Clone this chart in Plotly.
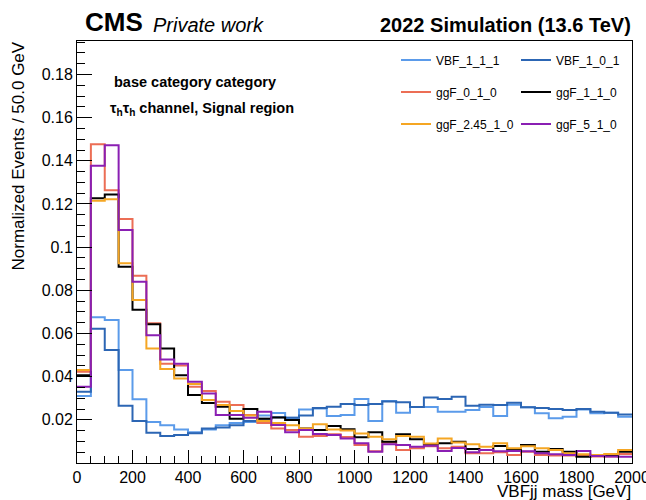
import numpy as np
import plotly.graph_objects as go

# 40 bins of 50 GeV between 0 and 2000 GeV
bin_width = 50.0
n_bins = 40

vbf_1_1_1 = [0.031, 0.0675, 0.0662, 0.0431, 0.0295, 0.019, 0.0175, 0.0155, 0.0142, 0.0155,
             0.0175, 0.0185, 0.019, 0.022, 0.0232, 0.021, 0.0248, 0.0253, 0.0218, 0.0222,
             0.0296, 0.0194, 0.0287, 0.0233, 0.026, 0.026, 0.0238, 0.0238, 0.0245, 0.026,
             0.0218, 0.027, 0.0258, 0.023, 0.0207, 0.0214, 0.0248, 0.023, 0.0233, 0.0214]
vbf_1_0_1 = [0.033, 0.0622, 0.0523, 0.0265, 0.0195, 0.014, 0.0125, 0.013, 0.0138, 0.016,
             0.0165, 0.0175, 0.0195, 0.0205, 0.0212, 0.021, 0.022, 0.0255, 0.0261, 0.0273,
             0.0269, 0.0273, 0.0285, 0.0281, 0.0259, 0.0304, 0.0296, 0.0307, 0.0265, 0.027,
             0.0269, 0.0279, 0.0258, 0.0255, 0.025, 0.0245, 0.025, 0.0238, 0.0233, 0.0225]
ggf_0_1_0 = [0.0423, 0.1477, 0.1264, 0.113, 0.0867, 0.0647, 0.046, 0.0452, 0.0353, 0.0333,
             0.0284, 0.0269, 0.0222, 0.0185, 0.016, 0.0153, 0.0122, 0.0125, 0.0133, 0.012,
             0.0083, 0.0055, 0.0095, 0.006, 0.0068, 0.0078, 0.0068, 0.0075, 0.0045, 0.0045,
             0.005, 0.0037, 0.0052, 0.0037, 0.0035, 0.0035, 0.0033, 0.003, 0.003, 0.0042]
ggf_1_1_0 = [0.0407, 0.1227, 0.1244, 0.0909, 0.071, 0.0643, 0.0531, 0.0407, 0.0315, 0.0278,
             0.0261, 0.0205, 0.025, 0.0205, 0.0211, 0.0199, 0.016, 0.0153, 0.0171, 0.0156,
             0.0119, 0.0142, 0.0099, 0.0133, 0.011, 0.0088, 0.0091, 0.0099, 0.0065, 0.006,
             0.0079, 0.0065, 0.0083, 0.0052, 0.0065, 0.0052, 0.0029, 0.0037, 0.0032, 0.0052]
ggf_2p45_1_0 = [0.0431, 0.1215, 0.1222, 0.0925, 0.0755, 0.053, 0.0435, 0.0392, 0.0366, 0.0292,
                0.0269, 0.0241, 0.022, 0.0195, 0.0185, 0.0175, 0.016, 0.0179, 0.0155, 0.015,
                0.0137, 0.0122, 0.011, 0.0125, 0.0122, 0.009, 0.0114, 0.0095, 0.0087, 0.0075,
                0.0091, 0.0068, 0.0078, 0.0068, 0.006, 0.0045, 0.004, 0.0037, 0.0042, 0.006]
ggf_5_1_0 = [0.0353, 0.1377, 0.1472, 0.1079, 0.084, 0.0592, 0.048, 0.046, 0.0376, 0.0322,
             0.0222, 0.0222, 0.021, 0.0238, 0.0176, 0.0142, 0.0153, 0.0134, 0.013, 0.0114,
             0.0091, 0.0052, 0.0087, 0.0083, 0.0075, 0.008, 0.0056, 0.007, 0.005, 0.006,
             0.0055, 0.0056, 0.0055, 0.0045, 0.004, 0.0037, 0.0056, 0.0033, 0.003, 0.0029]

sample_names = ["VBF_1_1_1", "VBF_1_0_1", "ggF_0_1_0", "ggF_1_1_0", "ggF_2.45_1_0", "ggF_5_1_0"]
sample_values = [vbf_1_1_1, vbf_1_0_1, ggf_0_1_0, ggf_1_1_0, ggf_2p45_1_0, ggf_5_1_0]
sample_colors = ["#5b9bea", "#2c66b4", "#ec6e55", "#000000", "#f5a623", "#8a1fb3"]
# two entries per legend row
sample_legend = ["legend", "legend", "legend2", "legend2", "legend3", "legend3"]

x_ticks = list(range(0, 2001, 200))
y_ticks = [0.02, 0.04, 0.06, 0.08, 0.10, 0.12, 0.14, 0.16, 0.18]
y_ticktext = ["0.02", "0.04", "0.06", "0.08", "0.1", "0.12", "0.14", "0.16", "0.18"]

FONT = "Liberation Sans, Arial, Helvetica, sans-serif"

# frame of the plotting area in pixels
W, H = 646, 500
pl, pr, pt, pb = 77, 632, 41, 463

edges = np.arange(n_bins + 1) * bin_width

fig = go.Figure()
for name, vals, col, leg in zip(sample_names, sample_values, sample_colors, sample_legend):
    y_step = list(vals) + [vals[-1]]
    fig.add_trace(go.Scatter(
        x=edges, y=y_step, mode="lines", name=name,
        line=dict(color=col, width=2, shape="hv"),
        legend=leg, showlegend=True,
    ))


def fx(px):
    return (px - pl) / (pr - pl)


def fy(py):
    return (pb - py) / (pb - pt)


legend_common = dict(
    orientation="h", xanchor="left", yanchor="middle",
    font=dict(family=FONT, size=12, color="black"),
    bgcolor="rgba(0,0,0,0)", entrywidth=75, entrywidthmode="pixels",
    itemwidth=30, tracegroupgap=0,
)

fig.update_layout(
    width=W, height=H,
    margin=dict(l=pl, r=W - pr, t=pt, b=H - pb, autoexpand=False),
    paper_bgcolor="white", plot_bgcolor="white",
    font=dict(family=FONT, size=15, color="black"),
    legend=dict(x=fx(396), y=fy(60), **legend_common),
    legend2=dict(x=fx(396), y=fy(92), **legend_common),
    legend3=dict(x=fx(396), y=fy(124), **legend_common),
    xaxis=dict(
        range=[0, 2000], showgrid=False, zeroline=False,
        showline=True, linecolor="black", linewidth=1, mirror=True,
        tickmode="array", tickvals=x_ticks, ticks="inside", ticklen=13,
        tickcolor="black", tickwidth=1, ticklabeloverflow="allow",
        minor=dict(tickmode="linear", tick0=0, dtick=50, ticks="inside",
                   ticklen=7, tickcolor="black", tickwidth=1, showgrid=False),
        tickfont=dict(family=FONT, size=16, color="black"),
    ),
    yaxis=dict(
        range=[0, 0.1955], showgrid=False, zeroline=False,
        showline=True, linecolor="black", linewidth=1, mirror=True,
        tickmode="array", tickvals=y_ticks, ticktext=y_ticktext,
        ticks="inside", ticklen=15, tickcolor="black", tickwidth=1,
        minor=dict(tickmode="linear", tick0=0, dtick=0.005, ticks="inside",
                   ticklen=8, tickcolor="black", tickwidth=1, showgrid=False),
        tickfont=dict(family=FONT, size=16, color="black"),
    ),
)

annotations = [
    dict(text="<b>CMS</b>", x=83, y=39, yanchor="bottom",
         font=dict(family=FONT, size=26, color="black")),
    dict(text="<i>Private work</i>", x=151, y=38, yanchor="bottom",
         font=dict(family=FONT, size=20, color="black")),
    dict(text="<b>2022 Simulation (13.6 TeV)</b>", x=633, y=38, yanchor="bottom",
         font=dict(family=FONT, size=20, color="black"), xanchor="right"),
    dict(text="<b>base category category</b>", x=112, y=82,
         font=dict(family=FONT, size=14.5, color="black")),
    dict(text="<b>τ<sub>h</sub>τ<sub>h</sub> channel, Signal region</b>", x=108, y=109,
         font=dict(family=FONT, size=14.5, color="black")),
    dict(text="VBFjj mass [GeV]", x=633, y=491,
         font=dict(family=FONT, size=17, color="black"), xanchor="right"),
    dict(text="Normalized Events / 50.0 GeV", x=18, y=40,
         textangle=-90, font=dict(family=FONT, size=17, color="black"),
         xanchor="center", yanchor="top"),
]

# pixel placements above expressed as paper fractions of the plotting area
for a in annotations:
    a["x"] = fx(a["x"])
    a["y"] = fy(a["y"])
    a["xref"] = "paper"
    a["yref"] = "paper"
    a.setdefault("xanchor", "left")
    a.setdefault("yanchor", "middle")
    a["showarrow"] = False
fig.update_layout(annotations=annotations)

fig.write_html("out.html")
